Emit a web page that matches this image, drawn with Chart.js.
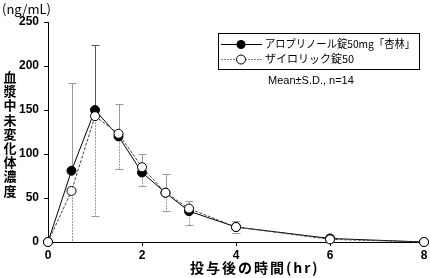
<!DOCTYPE html>
<html>
<head>
<meta charset="utf-8">
<script src="https://cdn.jsdelivr.net/npm/chart.js@4"></script>
<style>
  html, body { margin: 0; padding: 0; background: #fff; }
  #wrap { position: relative; width: 430px; height: 278px; }
</style>
</head>
<body>
<div id="wrap"><canvas id="c" width="430" height="278"></canvas></div>
<script>
// sampling times (hr)
const times = [0, 0.5, 1, 1.5, 2, 2.5, 3, 4, 6, 8];
// mean plasma concentration (ng/mL)
const kyorinMean = [0, 81, 150, 120, 79, 56, 35, 17, 4, 0];
const zyloricMean = [0, 58, 143, 123, 85, 56, 38, 17, 3, 0];
// S.D. (upper bar drawn for kyorin, lower bar for zyloric)
const kyorinSd = [0, 100, 74, 37, 21, 21, 12, 7, 1, 0];
const zyloricSd = [0, 60, 113, 40, 21, 21, 19, 7, 1, 0];
const seriesNames = ['アロプリノール錠50mg「杏林」', 'ザイロリック錠50'];
const yTicks = [0, 50, 100, 150, 200, 250];
const xTicks = [0, 2, 4, 6, 8];

const JP = '"Noto Sans CJK JP", "Liberation Sans", sans-serif';
const NUM = '"Liberation Sans", Arial, sans-serif';

function pts(ys) {
  return times.map(function (t, i) { return { x: t, y: ys[i] }; });
}

// error bars from data arrays via the chart scales
const errorBars = {
  id: 'errorBars',
  beforeDatasetsDraw: function (chart) {
    const ctx = chart.ctx;
    const xs = chart.scales.x, ys = chart.scales.y;
    const area = chart.chartArea;
    ctx.save();
    ctx.beginPath();
    ctx.rect(area.left - 5, area.top - 5, area.right - area.left + 10, area.bottom - area.top + 5);
    ctx.clip();
    ctx.lineWidth = 1;
    times.forEach(function (t, i) {
      const px = Math.round(xs.getPixelForValue(t)) + 0.5;
      if (kyorinSd[i] > 1) {
        const y0 = ys.getPixelForValue(kyorinMean[i]);
        const y1 = Math.round(ys.getPixelForValue(kyorinMean[i] + kyorinSd[i])) + 0.5;
        ctx.strokeStyle = i === 2 ? '#555' : '#999';
        ctx.setLineDash([]);
        ctx.beginPath();
        ctx.moveTo(px, y0); ctx.lineTo(px, y1);
        ctx.moveTo(px - 4, y1); ctx.lineTo(px + 4, y1);
        ctx.stroke();
      }
      if (zyloricSd[i] > 1) {
        const y0 = ys.getPixelForValue(zyloricMean[i]);
        const low = zyloricMean[i] - zyloricSd[i];
        const y1 = Math.round(ys.getPixelForValue(low)) + 0.5;
        ctx.strokeStyle = '#999';
        ctx.setLineDash([2, 1]);
        ctx.beginPath();
        ctx.moveTo(px, y0); ctx.lineTo(px, y1);
        ctx.stroke();
        if (low >= 0) {
          ctx.setLineDash([]);
          ctx.beginPath();
          ctx.moveTo(px - 4, y1); ctx.lineTo(px + 4, y1);
          ctx.stroke();
        }
      }
    });
    ctx.restore();
  }
};

// legend box, unit label, stacked y title, x title
const decorations = {
  id: 'decorations',
  afterDraw: function (chart) {
    const ctx = chart.ctx;
    ctx.save();
    // legend box
    ctx.strokeStyle = '#000';
    ctx.lineWidth = 1;
    ctx.setLineDash([]);
    ctx.strokeRect(218.5, 33.5, 201, 36);
    // row 1
    ctx.beginPath();
    ctx.moveTo(221, 44.5); ctx.lineTo(262, 44.5);
    ctx.stroke();
    ctx.fillStyle = '#000';
    ctx.beginPath(); ctx.arc(241, 44.5, 4.5, 0, Math.PI * 2); ctx.fill();
    // row 2
    ctx.strokeStyle = '#777';
    ctx.setLineDash([2, 1]);
    ctx.beginPath();
    ctx.moveTo(221, 59.5); ctx.lineTo(262, 59.5);
    ctx.stroke();
    ctx.setLineDash([]);
    ctx.strokeStyle = '#000';
    ctx.fillStyle = '#fff';
    ctx.beginPath(); ctx.arc(241, 59.5, 4.5, 0, Math.PI * 2); ctx.fill(); ctx.stroke();

    ctx.fillStyle = '#000';
    ctx.textBaseline = 'middle';
    ctx.textAlign = 'left';
    ctx.font = '11px ' + JP;
    ctx.fillText(seriesNames[0], 265, 44, 150);
    ctx.fillText(seriesNames[1], 265, 59);
    ctx.font = '11px ' + NUM;
    ctx.fillText('Mean±S.D., n=14', 268, 81);

    ctx.font = '13px ' + JP;
    ctx.fillText('(ng/mL)', 2, 9);

    // vertical title, upright characters
    ctx.font = 'bold 13px ' + JP;
    ctx.textAlign = 'center';
    const title = '血漿中未変化体濃度';
    for (let i = 0; i < title.length; i++) {
      ctx.fillText(title[i], 10, 77 + i * 14.2);
    }
    ctx.textAlign = 'left';
    ctx.font = 'bold 14px ' + JP;
    ctx.letterSpacing = '2px';
    ctx.fillText('投与後の時間(hr)', 190, 268);
    ctx.restore();
  }
};

new Chart(document.getElementById('c').getContext('2d'), {
  type: 'line',
  data: {
    datasets: [{
      label: seriesNames[0],
      data: pts(kyorinMean),
      borderColor: '#000',
      borderWidth: 1,
      backgroundColor: '#000',
      pointBackgroundColor: '#000',
      pointBorderColor: '#000',
      pointRadius: 4.5,
      tension: 0,
      order: 2
    }, {
      label: seriesNames[1],
      data: pts(zyloricMean),
      borderColor: '#444',
      borderWidth: 1,
      borderDash: [3, 1.5],
      pointBackgroundColor: '#fff',
      pointBorderColor: '#000',
      pointBorderWidth: 1,
      pointRadius: 4.5,
      tension: 0,
      order: 1
    }]
  },
  options: {
    responsive: false,
    animation: false,
    clip: false,
    layout: { padding: { left: 0, right: 6, top: 22, bottom: 0 } },
    plugins: { legend: { display: false }, tooltip: { enabled: false } },
    scales: {
      x: {
        type: 'linear',
        min: 0, max: 8,
        afterFit: function (s) { s.height = 36; },
        afterBuildTicks: function (s) { s.ticks = xTicks.map(function (v) { return { value: v }; }); },
        border: { color: '#000', width: 1 },
        grid: { display: true, drawOnChartArea: false, drawTicks: true, tickLength: 4, color: '#000' },
        ticks: { color: '#000', font: { family: NUM, size: 12, weight: 'bold' }, padding: 2, maxRotation: 0 }
      },
      y: {
        min: 0, max: 250,
        afterFit: function (s) { s.width = 48; },
        afterBuildTicks: function (s) { s.ticks = yTicks.map(function (v) { return { value: v }; }); },
        border: { color: '#000', width: 1 },
        grid: { display: true, drawOnChartArea: false, drawTicks: true, tickLength: 4, color: '#000' },
        ticks: { color: '#000', font: { family: NUM, size: 12, weight: 'bold' }, padding: 5 }
      }
    }
  },
  plugins: [errorBars, decorations]
});
</script>
</body>
</html>
